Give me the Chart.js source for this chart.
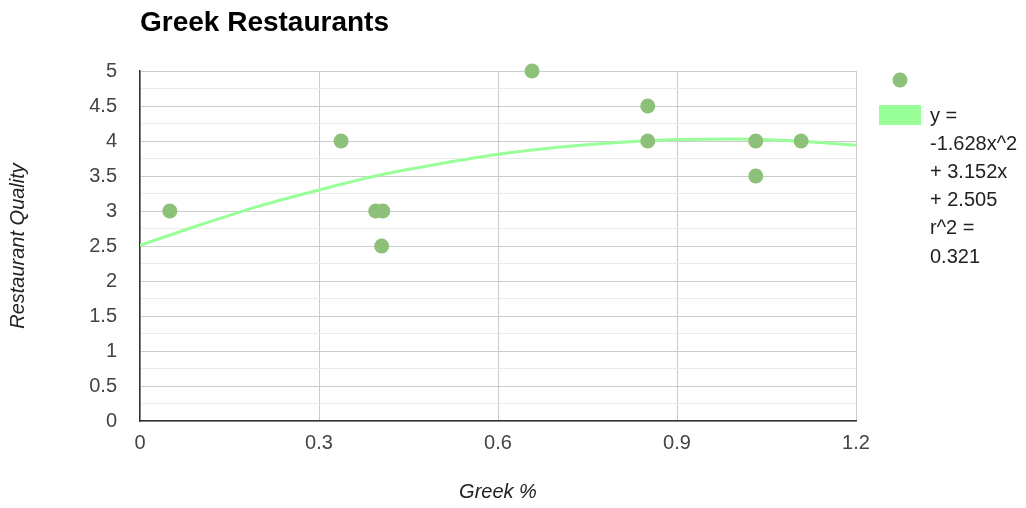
<!DOCTYPE html>
<html>
<head>
<meta charset="utf-8">
<script src="https://cdn.jsdelivr.net/npm/chart.js@4"></script>
<style>
  body { margin: 0; background: #fff; }
  #wrap { width: 1026px; height: 508px; }
</style>
</head>
<body>
<div id="wrap"><canvas id="greekChart" width="1026" height="508"></canvas></div>
<script>
const chartTitle = 'Greek Restaurants';
const greekPct = [0.05, 0.337, 0.395, 0.407, 0.405, 0.657, 0.851, 0.851, 1.032, 1.032, 1.108];
const quality = [3, 4, 3, 3, 2.5, 5, 4.5, 4, 4, 3.5, 4];

// trendline
const trendX = [0, 0.1, 0.2, 0.3, 0.4, 0.5, 0.6, 0.7, 0.8, 0.9, 1.0, 1.1, 1.2];
const trendY = [2.51, 2.80, 3.07, 3.30, 3.51, 3.67, 3.81, 3.91, 3.98, 4.02, 4.03, 4.00, 3.94];
const trendLabel = ['y =', '-1.628x^2', '+ 3.152x', '+ 2.505', 'r^2 =', '0.321'];

const dotColor = '#8dc17a';
const lineColor = '#99ff99';
const font = 'Arial, "Liberation Sans", sans-serif';

// title + legend on the right
const extras = {
  id: 'extras',
  afterDraw(chart) {
    const c = chart.ctx;
    c.save();
    c.fillStyle = '#000';
    c.font = 'bold 28px ' + font;
    c.textBaseline = 'middle';
    c.textAlign = 'left';
    c.fillText(chartTitle, 140, 23);

    c.fillStyle = dotColor;
    c.beginPath();
    c.arc(900, 80, 7.5, 0, Math.PI * 2);
    c.fill();

    c.fillStyle = lineColor;
    c.fillRect(879, 105, 42, 20);

    c.fillStyle = '#222';
    c.font = '20px ' + font;
    trendLabel.forEach((t, i) => c.fillText(t, 930, 116 + i * 28.2));
    c.restore();
  }
};

new Chart(document.getElementById('greekChart'), {
  type: 'scatter',
  data: {
    datasets: [
      {
        label: 'Restaurant Quality',
        data: greekPct.map((x, i) => ({ x: x, y: quality[i] })),
        backgroundColor: dotColor,
        borderWidth: 0,
        pointRadius: 7.5,
        pointHoverRadius: 7.5,
        clip: false
      },
      {
        label: 'Trendline',
        data: trendX.map((x, i) => ({ x: x, y: trendY[i] })),
        showLine: true,
        borderColor: lineColor,
        borderWidth: 3,
        pointRadius: 0,
        cubicInterpolationMode: 'monotone',
        fill: false
      }
    ]
  },
  options: {
    responsive: false,
    animation: false,
    layout: { padding: { left: 0, right: 170, top: 71, bottom: 0 } },
    plugins: {
      legend: { display: false },
      title: { display: false },
      tooltip: { enabled: false }
    },
    scales: {
      x: {
        type: 'linear',
        min: 0,
        max: 1.2,
        afterFit: s => { s.height = 87; },
        ticks: {
          stepSize: 0.3,
          autoSkip: false,
          maxRotation: 0,
          padding: 10,
          color: '#444',
          font: { family: font, size: 20 },
          callback: v => String(Math.round(v * 10) / 10)
        },
        grid: { color: '#cccccc', drawTicks: false },
        border: { color: '#333', width: 1.5 },
        title: {
          display: true,
          text: 'Greek %',
          color: '#222',
          font: { family: font, size: 20, style: 'italic', lineHeight: 1.2 },
          padding: { top: 0, bottom: 4 }
        }
      },
      y: {
        min: 0,
        max: 5,
        afterFit: s => { s.width = 140; },
        ticks: {
          stepSize: 0.25,
          autoSkip: false,
          padding: 23,
          color: '#444',
          font: { family: font, size: 20 },
          callback: v => Math.abs(v * 2 - Math.round(v * 2)) < 1e-6 ? String(Math.round(v * 10) / 10) : ''
        },
        grid: {
          drawTicks: false,
          color: ctx => {
            const v = ctx.tick ? ctx.tick.value : 0;
            return Math.abs(v * 2 - Math.round(v * 2)) < 1e-6 ? '#cccccc' : '#ebebeb';
          }
        },
        border: { color: '#333', width: 1.5 },
        title: {
          display: true,
          text: 'Restaurant Quality',
          color: '#222',
          font: { family: font, size: 20, style: 'italic', lineHeight: 1.2 },
          padding: { top: 6, bottom: 0 }
        }
      }
    }
  },
  plugins: [extras]
});
</script>
</body>
</html>
